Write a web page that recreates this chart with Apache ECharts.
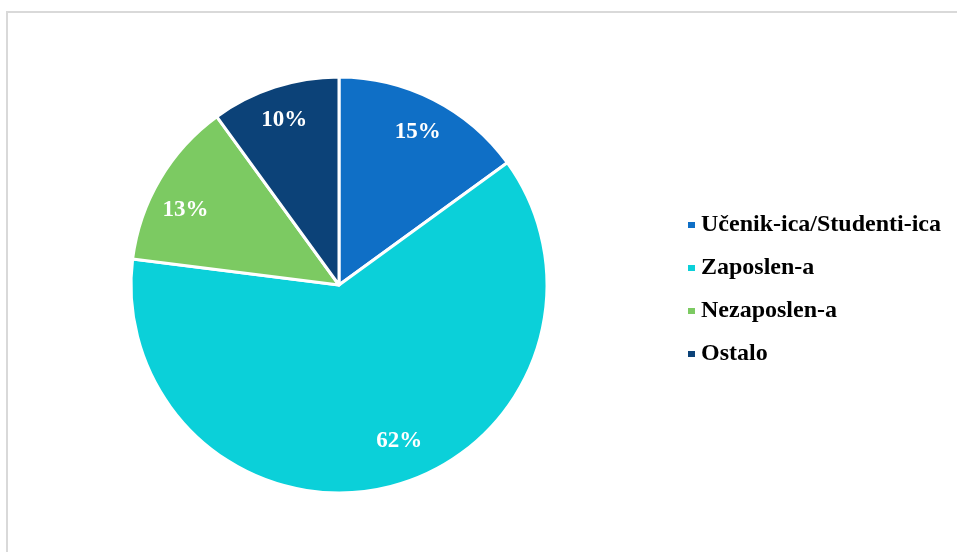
<!DOCTYPE html>
<html>
<head>
<meta charset="utf-8">
<script src="https://cdn.jsdelivr.net/npm/echarts@6/dist/echarts.min.js"></script>
<style>html,body{margin:0;padding:0;background:#fff;}#c{width:957px;height:552px;}</style>
</head>
<body>
<div id="c"></div>
<script>
const categories = ['Učenik-ica/Studenti-ica', 'Zaposlen-a', 'Nezaposlen-a', 'Ostalo'];
const values = [15, 62, 13, 10];
const colors = ['#0F6FC6', '#0BD0D9', '#7CCA62', '#0C4278'];
const labelOffsets = [[0, 2], [17, -12], [-4, 13], [-1, 0]];

const chart = echarts.init(document.getElementById('c'), null, {renderer: 'canvas'});
const data = categories.map((n, i) => ({name: n, value: values[i], itemStyle: {color: colors[i]}}));
const center = [339, 285];
const R = 208;
chart.setOption({
  animation: false,
  graphic: [{
    type: 'rect', silent: true, z: -10,
    shape: {x: 7, y: 12, width: 1000, height: 600},
    style: {fill: 'none', stroke: '#d9d9d9', lineWidth: 2}
  }],
  legend: {
    orient: 'vertical',
    left: 681, top: 208,
    itemWidth: 9, itemHeight: 8, itemGap: 19,
    icon: 'rect',
    textStyle: {fontFamily: 'Liberation Serif', fontWeight: 'bold', fontSize: 24, color: '#000', padding: [0,0,0,0]},
    data: categories
  },
  series: [{
    type: 'pie',
    center: center,
    radius: [0, R],
    startAngle: 90,
    clockwise: true,
    silent: true,
    label: {show: false},
    labelLine: {show: false},
    itemStyle: {borderColor: '#fff', borderWidth: 3},
    data: data
  }, {
    type: 'pie',
    center: center,
    radius: [R * 0.64, R],
    startAngle: 90,
    clockwise: true,
    silent: true,
    legendHoverLink: false,
    itemStyle: {color: 'rgba(0,0,0,0)', borderWidth: 0},
    label: {
      show: true, position: 'inside',
      formatter: p => p.value + '%',
      fontFamily: 'Liberation Serif', fontWeight: 'bold', fontSize: 23, color: '#fff'
    },
    labelLine: {show: false},
    data: categories.map((n, i) => ({
      name: n, value: values[i],
      itemStyle: {color: 'rgba(0,0,0,0)'},
      label: {offset: labelOffsets[i]}
    }))
  }]
});
</script>
</body>
</html>
